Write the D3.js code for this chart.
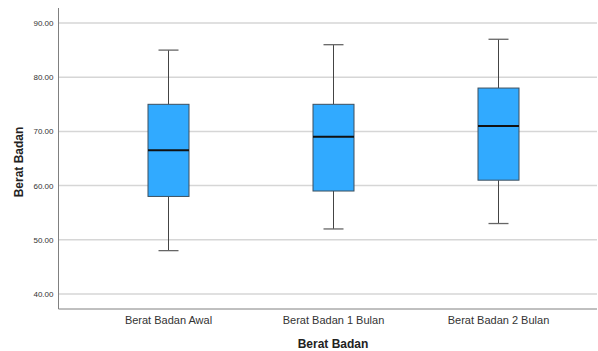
<!DOCTYPE html>
<html><head><meta charset="utf-8">
<script src="https://cdn.jsdelivr.net/npm/d3@7"></script>
<style>body{margin:0;background:#fff}svg{display:block}</style>
</head><body>
<script>
const categories = ["Berat Badan Awal", "Berat Badan 1 Bulan", "Berat Badan 2 Bulan"];
const whiskerLow = [48, 52, 53];
const q1 = [58, 59, 61];
const median = [66.5, 69, 71];
const q3 = [75, 75, 78];
const whiskerHigh = [85, 86, 87];
const yTicks = [40, 50, 60, 70, 80, 90];

const W = 598, H = 351;
const svg = d3.select("body").append("svg").attr("width", W).attr("height", H);
const plotL = 58.5, plotR = 597, plotT = 8, plotB = 309;

const y = d3.scaleLinear().domain([37.23, 92.77]).range([plotB, plotT]);
const x = d3.scaleBand().domain(categories).range([86, 581]).padding(0);

// gridlines
svg.append("g").selectAll("line").data(yTicks).join("line")
  .attr("x1", plotL).attr("x2", plotR)
  .attr("y1", d => y(d)).attr("y2", d => y(d))
  .attr("stroke", "#d6d6d6").attr("stroke-width", 1.5);

// y axis
const yAxis = d3.axisLeft(y).tickValues(yTicks).tickFormat(d3.format(".2f")).tickSize(0).tickPadding(5);
const gy = svg.append("g").attr("transform", `translate(${plotL},0)`).call(yAxis);
gy.select(".domain").remove();
gy.selectAll("text").attr("font-family", "Liberation Sans, Arial, sans-serif").attr("font-size", 8).attr("fill", "#333");

// x axis
const xAxis = d3.axisBottom(x).tickSize(0).tickPadding(7);
const gx = svg.append("g").attr("transform", `translate(0,${plotB})`).call(xAxis);
gx.select(".domain").remove();
gx.selectAll("text").attr("font-family", "Liberation Sans, Arial, sans-serif").attr("font-size", 11).attr("fill", "#333");

// axis lines
svg.append("line").attr("x1", plotL).attr("x2", plotL).attr("y1", plotT).attr("y2", plotB).attr("stroke", "#808080").attr("stroke-width", 1);
svg.append("line").attr("x1", plotL).attr("x2", plotR).attr("y1", plotB).attr("y2", plotB).attr("stroke", "#808080").attr("stroke-width", 1);

// boxes
const data = categories.map((c, i) => ({c, lo: whiskerLow[i], q1: q1[i], med: median[i], q3: q3[i], hi: whiskerHigh[i]}));
const bw = 41, cap = 20;
const g = svg.append("g").selectAll("g").data(data).join("g")
  .attr("transform", d => `translate(${x(d.c) + x.bandwidth() / 2},0)`);
g.append("line").attr("x1", 0).attr("x2", 0).attr("y1", d => y(d.hi)).attr("y2", d => y(d.q3)).attr("stroke", "#444").attr("stroke-width", 1);
g.append("line").attr("x1", 0).attr("x2", 0).attr("y1", d => y(d.q1)).attr("y2", d => y(d.lo)).attr("stroke", "#444").attr("stroke-width", 1);
g.append("line").attr("x1", -cap / 2).attr("x2", cap / 2).attr("y1", d => y(d.hi)).attr("y2", d => y(d.hi)).attr("stroke", "#666").attr("stroke-width", 1.3);
g.append("line").attr("x1", -cap / 2).attr("x2", cap / 2).attr("y1", d => y(d.lo)).attr("y2", d => y(d.lo)).attr("stroke", "#666").attr("stroke-width", 1.3);
g.append("rect").attr("x", -bw / 2).attr("width", bw)
  .attr("y", d => y(d.q3)).attr("height", d => y(d.q1) - y(d.q3))
  .attr("fill", "#31aaff").attr("stroke", "#3d4f5e").attr("stroke-width", 1);
g.append("line").attr("x1", -bw / 2).attr("x2", bw / 2).attr("y1", d => y(d.med)).attr("y2", d => y(d.med)).attr("stroke", "#111").attr("stroke-width", 2);

// titles
svg.append("text").attr("x", 333).attr("y", 348).attr("text-anchor", "middle")
  .attr("font-family", "Liberation Sans, Arial, sans-serif").attr("font-size", 12).attr("font-weight", "bold").attr("fill", "#222").text("Berat Badan");
svg.append("text").attr("transform", "translate(23,162) rotate(-90)").attr("text-anchor", "middle")
  .attr("font-family", "Liberation Sans, Arial, sans-serif").attr("font-size", 12).attr("font-weight", "bold").attr("fill", "#222").text("Berat Badan");
</script>
</body></html>
